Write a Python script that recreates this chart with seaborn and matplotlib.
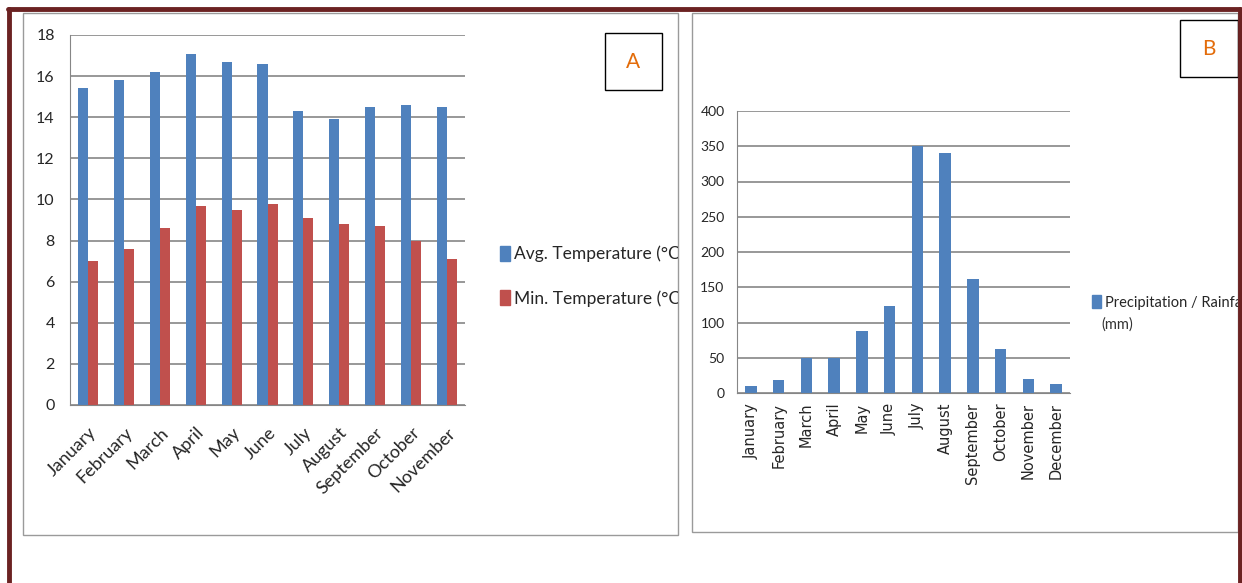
import matplotlib
matplotlib.use("Agg")
import matplotlib.pyplot as plt
import matplotlib.patches as mpatches
from matplotlib.lines import Line2D
from matplotlib.ticker import FixedLocator, NullFormatter
import seaborn as sns
import pandas as pd

# ---------------- data ----------------
months_a = ["January", "February", "March", "April", "May", "June", "July",
            "August", "September", "October", "November"]
avg_temp = [15.4, 15.8, 16.2, 17.1, 16.7, 16.6, 14.3, 13.9, 14.5, 14.6, 14.5]
min_temp = [7.0, 7.6, 8.6, 9.7, 9.5, 9.8, 9.1, 8.8, 8.7, 8.0, 7.1]
series_a = ["Avg. Temperature (°C)", "Min. Temperature (°C)"]

months_b = ["January", "February", "March", "April", "May", "June", "July",
            "August", "September", "October", "November", "December"]
rainfall = [10, 18, 50, 50, 88, 123, 350, 340, 162, 62, 20, 13]
series_b = "Precipitation / Rainfall"
series_b_unit = "(mm)"

BLUE = "#4F81BD"
RED = "#C0504D"
GRID = "#868686"
ORANGE = "#E36C0A"
FRAME = "#6B2222"

sns.set_style("white")
plt.rcParams["font.family"] = ["Lato", "DejaVu Sans"]

W, H = 1242, 583
fig = plt.figure(figsize=(W / 100, H / 100), dpi=100)
fig.patch.set_facecolor("white")


def fx(px):
    return px / W


def fy(py):
    return 1 - py / H


def add_rect(x0, y0, x1, y1, ec, lw):
    r = mpatches.Rectangle((fx(x0), fy(y1)), fx(x1 - x0), (y1 - y0) / H,
                           transform=fig.transFigure, fill=False,
                           edgecolor=ec, lw=lw)
    fig.add_artist(r)
    return r


# outer dark red frame (top, left, right)
fig.add_artist(Line2D([fx(8), fx(1240)], [fy(9), fy(9)], transform=fig.transFigure,
                      color=FRAME, lw=3.5))
fig.add_artist(Line2D([fx(9), fx(9)], [fy(9), fy(583)], transform=fig.transFigure,
                      color=FRAME, lw=3.5))
fig.add_artist(Line2D([fx(1240), fx(1240)], [fy(9), fy(583)], transform=fig.transFigure,
                      color=FRAME, lw=3.5))

# panel boxes
add_rect(23, 13, 678, 535, "#9a9a9a", 1.0)
add_rect(692, 13, 1238, 532, "#9a9a9a", 1.0)

# ---------------- panel A ----------------
df_a = pd.DataFrame({
    "Month": months_a * 2,
    "Value": avg_temp + min_temp,
    "Series": [series_a[0]] * len(months_a) + [series_a[1]] * len(months_a),
})
ax1 = fig.add_axes([fx(70), fy(405), fx(465 - 70), (405 - 35) / H])
sns.barplot(data=df_a, x="Month", y="Value", hue="Series", order=months_a,
            hue_order=series_a, palette=[BLUE, RED], width=0.56, gap=0,
            saturation=1, linewidth=0, ax=ax1, legend=False)
ax1.set_ylim(0, 18)
ax1.set_xlim(-0.5, len(months_a) - 0.5)
ax1.set_yticks(range(0, 19, 2))
ax1.yaxis.grid(True, color=GRID, lw=1.2)
ax1.set_axisbelow(True)
ax1.set_xlabel("")
ax1.set_ylabel("")
for s in ["top", "right"]:
    ax1.spines[s].set_visible(False)
ax1.spines["left"].set_color(GRID)
ax1.spines["bottom"].set_color(GRID)
ax1.tick_params(axis="y", length=5, color=GRID, labelsize=11.5, pad=6)
ax1.tick_params(axis="x", which="major", length=0, labelsize=13, pad=14)
ax1.xaxis.set_minor_locator(FixedLocator([i - 0.5 for i in range(len(months_a) + 1)]))
ax1.xaxis.set_minor_formatter(NullFormatter())
ax1.tick_params(axis="x", which="minor", length=5, color=GRID)
for lab in ax1.get_xticklabels():
    lab.set_rotation(45)
    lab.set_ha("right")
    lab.set_rotation_mode("anchor")

handles_a = [mpatches.Patch(color=BLUE), mpatches.Patch(color=RED)]
leg1 = fig.legend(handles_a, series_a, loc="upper left",
                  bbox_to_anchor=(fx(484), fy(230)), frameon=False,
                  handlelength=0.6, handleheight=0.95, handletextpad=0.2,
                  labelspacing=1.6, fontsize=12.5)
clip_a = mpatches.Rectangle((fx(23), fy(535)), fx(678 - 23), (535 - 13) / H,
                            transform=fig.transFigure, visible=False)
fig.add_artist(clip_a)
for t in leg1.get_texts():
    t.set_clip_path(clip_a)

add_rect(605, 33, 662, 90, "black", 1.0)
fig.text(fx(633.5), fy(62), "A", color=ORANGE, fontsize=15, ha="center", va="center")

# ---------------- panel B ----------------
df_b = pd.DataFrame({"Month": months_b, "Value": rainfall})
ax2 = fig.add_axes([fx(737), fy(393), fx(1070 - 737), (393 - 111) / H])
sns.barplot(data=df_b, x="Month", y="Value", order=months_b, color=BLUE,
            width=0.42, saturation=1, linewidth=0, ax=ax2)
ax2.set_ylim(0, 400)
ax2.set_xlim(-0.5, len(months_b) - 0.5)
ax2.set_yticks(range(0, 401, 50))
ax2.yaxis.grid(True, color=GRID, lw=1.2)
ax2.set_axisbelow(True)
ax2.set_xlabel("")
ax2.set_ylabel("")
for s in ["top", "right"]:
    ax2.spines[s].set_visible(False)
ax2.spines["left"].set_color(GRID)
ax2.spines["bottom"].set_color(GRID)
ax2.tick_params(axis="y", length=4, color=GRID, labelsize=10, pad=5)
ax2.tick_params(axis="x", which="major", length=0, labelsize=10.5, pad=7,
                labelrotation=90, labelfontfamily="DejaVu Sans")
ax2.xaxis.set_minor_locator(FixedLocator([i - 0.5 for i in range(len(months_b) + 1)]))
ax2.xaxis.set_minor_formatter(NullFormatter())
ax2.tick_params(axis="x", which="minor", length=4, color=GRID)

leg2 = fig.legend([mpatches.Patch(color=BLUE)], [series_b], loc="upper left",
                  bbox_to_anchor=(fx(1079), fy(282)), frameon=False,
                  handlelength=0.6, handleheight=1.0, handletextpad=0.25,
                  fontsize=10.5)
clip_b = mpatches.Rectangle((fx(692), fy(532)), fx(1238 - 692), (532 - 13) / H,
                            transform=fig.transFigure, visible=False)
fig.add_artist(clip_b)
for t in leg2.get_texts():
    t.set_clip_path(clip_b)
fig.text(fx(1101), fy(325), series_b_unit, fontsize=10.5, ha="left", va="center",
         color="#333333")

add_rect(1180, 20, 1238, 77, "black", 1.0)
fig.text(fx(1209), fy(49), "B", color=ORANGE, fontsize=15, ha="center", va="center")

fig.savefig("out.png", dpi=100, facecolor="white")
